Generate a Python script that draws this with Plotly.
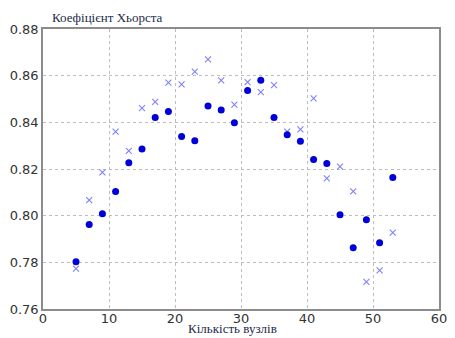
import plotly.graph_objects as go

# Number of nodes (x axis)
nodes = [5, 7, 9, 11, 13, 15, 17, 19, 21, 23, 25, 27, 29, 31, 33, 35, 37, 39, 41, 43, 45, 47, 49, 51, 53]

# Hurst coefficient, first series (filled circles)
hurst_a = [0.7803, 0.7962, 0.8008, 0.8104, 0.8227, 0.8286, 0.8421, 0.8446, 0.8339, 0.8321,
           0.8470, 0.8453, 0.8398, 0.8536, 0.8580, 0.8421, 0.8347, 0.8319, 0.8241, 0.8224,
           0.8004, 0.7863, 0.7983, 0.7884, 0.8164]

# Hurst coefficient, second series (crosses)
hurst_b = [0.7773, 0.8067, 0.8186, 0.8360, 0.8278, 0.8461, 0.8488, 0.8570, 0.8563, 0.8617,
           0.8670, 0.8580, 0.8476, 0.8572, 0.8529, 0.8559, 0.8360, 0.8370, 0.8503, 0.8160,
           0.8210, 0.8104, 0.7716, 0.7766, 0.7927]

x_ticks = [0, 10, 20, 30, 40, 50, 60]
y_ticks = [0.76, 0.78, 0.80, 0.82, 0.84, 0.86, 0.88]

fig = go.Figure()
fig.add_trace(go.Scatter(
    x=nodes, y=hurst_b, mode="markers",
    marker=dict(symbol="x-thin-open", size=6, color="#8080ff",
                line=dict(width=1.1, color="#8080ff")),
    showlegend=False,
))
fig.add_trace(go.Scatter(
    x=nodes, y=hurst_a, mode="markers",
    marker=dict(symbol="circle", size=7, color="#0000d8", line=dict(width=0)),
    showlegend=False,
))

axis_common = dict(
    showgrid=True, gridcolor="#bdbdbd", griddash="dot", gridwidth=1,
    showline=True, linecolor="#8c8c8c", linewidth=1.5, mirror=True,
    zeroline=False, ticks="",
    tickfont=dict(family="DejaVu Sans", size=13, color="#333333"),
)

fig.update_xaxes(range=[0, 60], tickvals=x_ticks, ticktext=[str(v) for v in x_ticks],
                 ticklabelstandoff=-3, **axis_common)
fig.update_yaxes(range=[0.76, 0.88], tickvals=y_ticks,
                 ticktext=[f"{v:.2f}" for v in y_ticks], **axis_common)

fig.add_annotation(text="Коефіцієнт Хьорста", xref="paper", yref="paper",
                   x=0.017, y=1.0, xanchor="left", yanchor="middle", yshift=12,
                   showarrow=False,
                   font=dict(family="Liberation Serif", size=13, color="#1c2a4a"))
fig.add_annotation(text="Кількість вузлів", xref="paper", yref="paper",
                   x=0.478, y=0, xanchor="center", yanchor="bottom", yshift=-29,
                   showarrow=False,
                   font=dict(family="Liberation Serif", size=13, color="#1c2a4a"))

fig.update_layout(
    width=455, height=338,
    margin=dict(l=43, r=8, t=29, b=29),
    paper_bgcolor="white", plot_bgcolor="white",
)

fig.write_html("out.html")
